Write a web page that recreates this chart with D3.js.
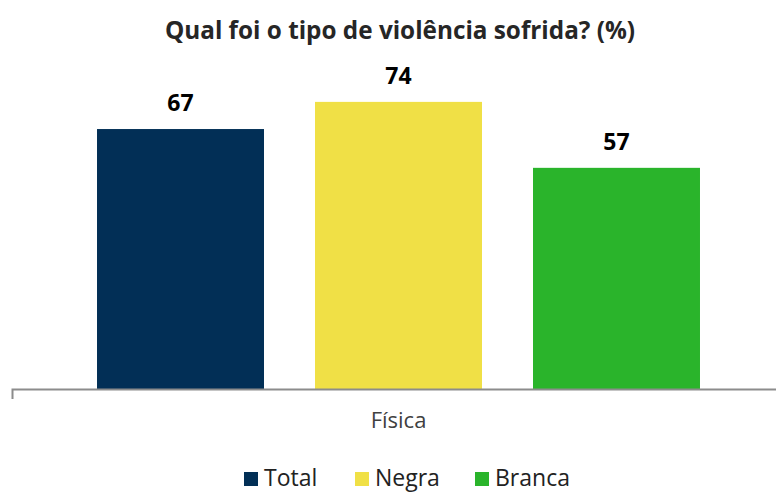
<!DOCTYPE html>
<html>
<head>
<meta charset="utf-8">
<script src="https://cdn.jsdelivr.net/npm/d3@7"></script>
<style>
  body { margin: 0; background: #fff; }
  svg { display: block; font-family: "Open Sans", "Noto Sans", sans-serif; }
</style>
</head>
<body>
<div id="chart"></div>
<script>
// data
let categories = ["Física"];
let series = ["Total", "Negra", "Branca"];
let values = [67, 74, 57];
let colors = ["#022f56", "#f0e046", "#2ab42b"];

let title = "Qual foi o tipo de violência sofrida? (%)";

function draw() {
    var width = 776, height = 492;
    var baseY = 389;

    var svg = d3.select("#chart")
        .append("svg")
        .attr("width", width)
        .attr("height", height);

    // title
    svg.append("text")
        .attr("x", 400)
        .attr("y", 39)
        .attr("text-anchor", "middle")
        .style("font-weight", "bold")
        .style("font-size", "24.3px")
        .attr("fill", "#262626")
        .text(title);

    var x0 = d3.scaleBand()
        .domain(categories)
        .range([12, 785]);

    var x1 = d3.scaleBand()
        .domain(series)
        .range([0, x0.bandwidth()])
        .paddingInner(0.234)
        .paddingOuter(0.39);

    var y = d3.scaleLinear()
        .domain([0, 80])
        .range([baseY, baseY - 310.4]);

    var g = svg.append("g");

    var rows = series.map(function (s, i) {
        return { cat: categories[0], key: s, value: values[i], color: colors[i] };
    });

    g.selectAll("rect.bar")
        .data(rows)
        .enter()
        .append("rect")
        .attr("class", "bar")
        .attr("x", function (d) { return x0(d.cat) + x1(d.key); })
        .attr("y", function (d) { return y(d.value); })
        .attr("width", x1.bandwidth())
        .attr("height", function (d) { return baseY - y(d.value); })
        .attr("fill", function (d) { return d.color; });

    g.selectAll("text.lbl")
        .data(rows)
        .enter()
        .append("text")
        .attr("class", "lbl")
        .attr("x", function (d) { return x0(d.cat) + x1(d.key) + x1.bandwidth() / 2; })
        .attr("y", function (d) { return y(d.value) - 18; })
        .attr("text-anchor", "middle")
        .style("font-weight", "bold")
        .style("font-size", "23px")
        .attr("fill", "#000")
        .text(function (d) { return d.value; });

    // x axis
    var ax = svg.append("g")
        .attr("transform", "translate(0," + baseY + ")")
        .call(d3.axisBottom(x0).tickSizeInner(0).tickSizeOuter(10).tickPadding(23));
    ax.select(".domain").attr("stroke", "#8c8c8c").attr("stroke-width", 2);
    ax.selectAll("text")
        .style("font-size", "22px")
        .style("font-family", "'Open Sans', sans-serif")
        .attr("fill", "#404040");

    // legend
    var legX = [244, 355, 475];
    var leg = svg.selectAll("g.leg")
        .data(rows)
        .enter()
        .append("g")
        .attr("class", "leg")
        .attr("transform", function (d, i) { return "translate(" + legX[i] + ",472)"; });
    leg.append("rect")
        .attr("width", 14)
        .attr("height", 14)
        .attr("fill", function (d) { return d.color; });
    leg.append("text")
        .attr("x", 20)
        .attr("y", 14)
        .style("font-size", "23px")
        .attr("fill", "#222")
        .text(function (d) { return d.key; });
}

draw();
</script>
</body>
</html>
